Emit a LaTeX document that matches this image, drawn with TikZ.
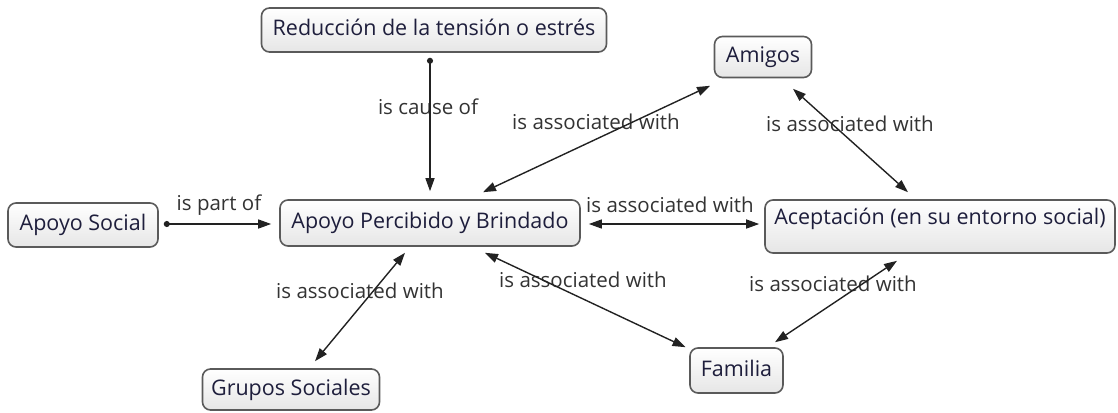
\documentclass[tikz,border=0pt]{standalone}
\usepackage{fontspec}
\setmainfont{Open Sans}
\usetikzlibrary{arrows.meta,calc}
\definecolor{boxdraw}{HTML}{5A5A5A}
\definecolor{boxbot}{HTML}{E6E6E6}
\definecolor{textc}{HTML}{1E1E3C}
\definecolor{lblc}{HTML}{333333}
\definecolor{linec}{HTML}{222222}
\begin{document}
\begin{tikzpicture}[x=1pt,y=-1pt,
  concept/.style={draw=boxdraw, line width=1.6pt, rounded corners=8pt,
    top color=white, bottom color=boxbot, text=textc, inner sep=0pt,
    font=\fontsize{21.5}{25}\selectfont, text height=16pt, text depth=5pt},
  lbl/.style={text=lblc, inner sep=0pt, font=\fontsize{20.5}{24}\selectfont},
  link/.style={draw=linec, line width=1.4pt},
  one/.style={link, {Circle[length=6pt]}-{Triangle[length=13pt,width=9pt]}},
  two/.style={link, {Triangle[length=13pt,width=9pt]}-{Triangle[length=13pt,width=9pt]}}
]
\useasboundingbox (0,0) rectangle (1118,412);

% concepts
\node[concept, minimum width=345pt, minimum height=44pt] (red) at (434,30) {Reducción de la tensión o estrés};
\node[concept, minimum width=97pt, minimum height=41pt] (ami) at (763,57) {Amigos};
\node[concept, minimum width=150pt, minimum height=44pt] (soc) at (83,225) {Apoyo Social};
\node[concept, minimum width=300pt, minimum height=46pt] (perc) at (430,223) {Apoyo Percibido y Brindado};
\node[concept, minimum width=350pt, minimum height=53pt, text depth=20pt] (acep) at (940,226.5) {Aceptación (en su entorno social)};
\node[concept, minimum width=177pt, minimum height=41pt] (grup) at (291,389.5) {Grupos Sociales};
\node[concept, minimum width=93pt, minimum height=45pt] (fam) at (736.5,370.5) {Familia};

% linking phrases
\node[lbl] (l1) at (428,107) {is cause of};
\node[lbl] (l2) at (219,205) {is part of};
\node[lbl] (l3) at (596,122) {is associated with};
\node[lbl] (l4) at (850,124) {is associated with};
\node[lbl] (l5) at (670,205) {is associated with};
\node[lbl] (l6) at (360,291) {is associated with};
\node[lbl] (l7) at (583,280) {is associated with};
\node[lbl] (l8) at (833,284) {is associated with};

% connectors
\draw[one] ($(red.south)+(-4,5)$) -- ($(perc.north)+(0,-8)$);
\draw[one] ($(soc.east)+(5,-1)$) -- ($(perc.west)+(-8,1)$);
\draw[two] ($(perc.north)+(53,-7)$) -- ($(ami.south)+(-53,7.5)$);
\draw[two] ($(ami.south)+(30,10.5)$) -- ($(acep.north)+(-32,-7)$);
\draw[two] ($(perc.east)+(8,1)$) -- ($(acep.west)+(-5,-2.5)$);
\draw[two] ($(perc.south)+(-25,6)$) -- ($(grup.north)+(24,-7)$);
\draw[two] ($(perc.south)+(55,6)$) -- ($(fam.north)+(-51,0)$);
\draw[two] ($(fam.north)+(38.5,-5)$) -- ($(acep.south)+(-43,7)$);
\end{tikzpicture}
\end{document}
